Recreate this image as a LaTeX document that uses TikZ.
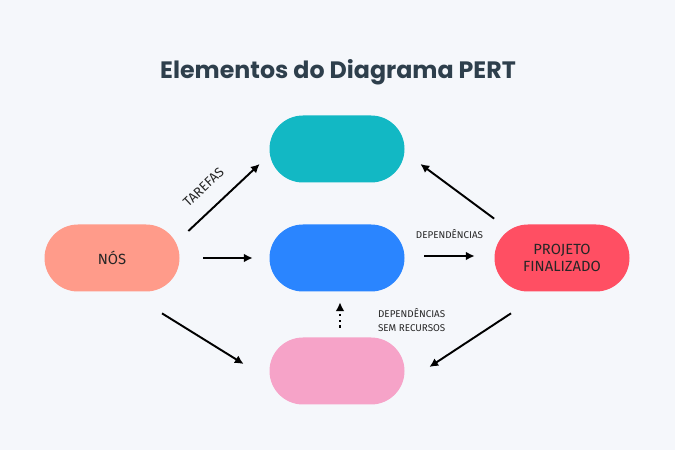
\documentclass[tikz,border=0pt]{standalone}
\usepackage{fontspec}
\setmainfont{Fira Sans}
\newfontfamily\titlefont{Poppins}
\usepackage{xcolor}
\usepackage{tikz}
\usetikzlibrary{calc, arrows.meta, positioning}

\definecolor{bgcol}{HTML}{F5F7FB}
\definecolor{titlecol}{HTML}{2E3F4C}
\definecolor{noscol}{HTML}{FF9B8A}
\definecolor{tealcol}{HTML}{12B8C4}
\definecolor{bluecol}{HTML}{2A85FF}
\definecolor{pinkcol}{HTML}{F6A3C8}
\definecolor{redcol}{HTML}{FF4F63}

\begin{document}
\begin{tikzpicture}[auto, >=latex]
		\tikzstyle{pill} = [draw=none, rectangle, rounded corners=0.67cm, minimum width=2.7cm, minimum height=1.34cm, font=\fontsize{8.4}{10}\selectfont, text=black!85, align=center]
		\tikzstyle{invis} = [draw=none, font=\fontsize{5.6}{8}\selectfont, text=black!85, align=center]
		\tikzstyle{arrow} = [line width=1.1pt, -{Latex[length=5pt, width=5pt]}]
		
		\fill[bgcol] (0, 0) rectangle (13.5, 9);
		\node[font=\titlefont\bfseries\fontsize{13.5}{16}\selectfont, text=titlecol] at (6.76, 7.56) (title) {Elementos do Diagrama PERT};
		
		\node[pill, fill=noscol] 	at (2.24, 3.84) 	(nos) 	{NÓS};
		\node[pill, fill=tealcol] 	at (6.74, 6.02)		(tarefa) 	{};
		\node[pill, fill=bluecol] 	at (6.74, 3.84)		(dep) 	{};
		\node[pill, fill=pinkcol] 	at (6.74, 1.58)		(semrec) 	{};
		\node[pill, fill=redcol] 	at (11.24, 3.84)	(fim) 	{PROJETO\\FINALIZADO};
		
		\path[arrow]
			($(nos.east)+(0.17, 0.54)$) 	edge 	node	[invis, font=\fontsize{7.6}{9}\selectfont, sloped, above=0.2cm, pos=0.42]	{TAREFAS}	($(tarefa.west)+(-0.19, -0.30)$)
			($(nos.east)+(0.47, 0)$) 		edge 									($(dep.west)+(-0.33, 0)$)
			($(nos.south)+(1.0, -0.43)$) 	edge 									($(semrec.west)+(-0.51, 0.14)$)
			($(dep.east)+(0.39, 0.04)$) 	edge 	node	[invis, above=0.22cm]		{DEPENDÊNCIAS}	($(fim.west)+(-0.39, 0.04)$)
			($(fim.north west)+(0, 0.11)$) 	edge 									($(tarefa.east)+(0.31, -0.30)$)
			($(fim.south)+(-1.02, -0.43)$) 	edge 									($(semrec.east)+(0.49, 0.08)$)
			($(semrec.north)+(0.06, 0.19)$) edge 	[dotted, line width=1.3pt]	node	[invis, right=0.62cm, pos=0.3]	{DEPENDÊNCIAS\\SEM RECURSOS}	($(dep.south)+(0.06, -0.21)$);
	\end{tikzpicture}
\end{document}
